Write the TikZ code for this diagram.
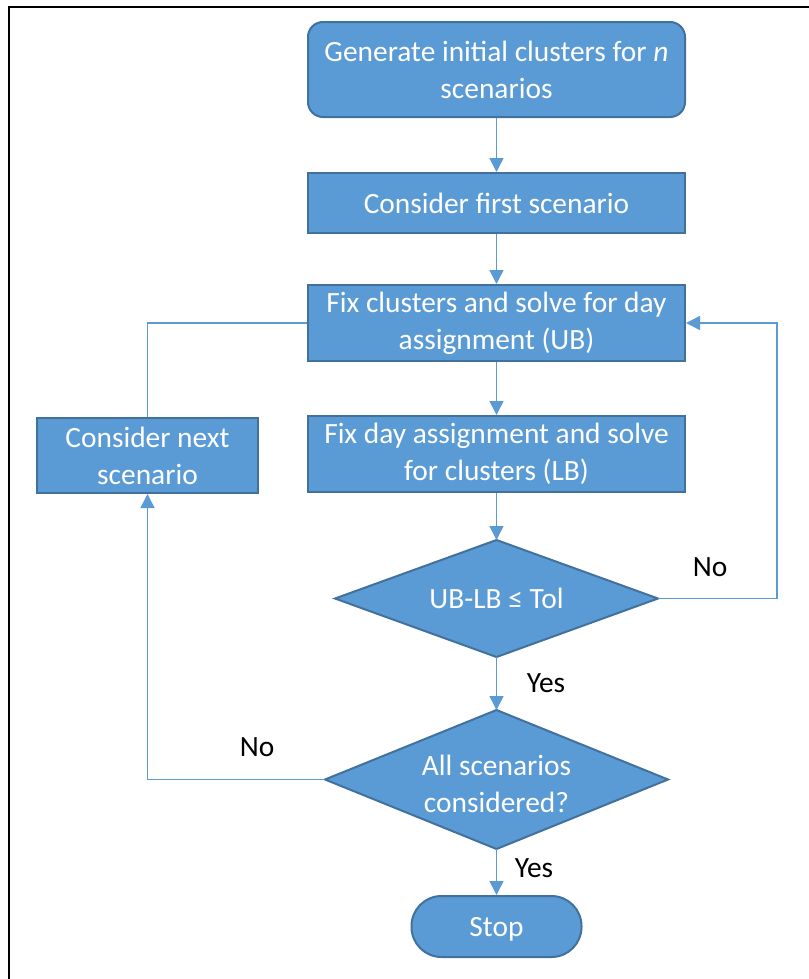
\documentclass[tikz,border=0pt]{standalone}
\usepackage{fontspec}
\setmainfont{Carlito}
\usetikzlibrary{shapes.geometric,arrows.meta}
\definecolor{boxfill}{HTML}{5B9BD5}
\definecolor{boxedge}{HTML}{41719C}
\definecolor{linec}{HTML}{5B9BD5}
\tikzset{
  every node/.style={font=\fontsize{29.4bp}{37bp}\selectfont},
  procbox/.style={draw=boxedge, line width=2bp, fill=boxfill, text=white, align=center, inner sep=0pt, minimum width=377bp},
  decbox/.style={draw=boxedge, line width=2bp, fill=boxfill, text=white, align=center, diamond, inner sep=0pt, outer sep=0pt},
  conn/.style={draw=linec, line width=1.5bp},
  arr/.style={conn, -{Triangle[length=14bp,width=14bp]}},
  lbl/.style={text=black}
}
\begin{document}
\begin{tikzpicture}[x=1bp, y=-1bp]
\useasboundingbox (0,0) rectangle (809,979);
\fill[white] (0,0) rectangle (809,979);
\draw[black, line width=2.5bp] (9,979) -- (9,7) -- (809,7);

\node[procbox, rounded corners=15bp, minimum height=95bp] (b1) at (496.5,69.5) {Generate initial clusters for \textit{n}\\scenarios};
\node[procbox, minimum height=60bp] (b2) at (496.5,203) {Consider first scenario};
\node[procbox, minimum height=76bp] (b3) at (496.5,323) {Fix clusters and solve for day\\assignment (UB)};
\node[procbox, minimum height=76bp] (b4) at (496.5,454) {Fix day assignment and solve\\for clusters (LB)};
\node[procbox, minimum width=221bp, minimum height=75bp] (b5) at (147.5,455.5) {Consider next\\scenario};
\node[decbox, aspect=2.76, minimum width=323bp, minimum height=117bp] (d1) at (496.5,598.5) {UB-LB ≤ Tol};
\node[decbox, aspect=2.47, minimum width=343bp, minimum height=139bp] (d2) at (496.5,779.5) {\raisebox{-7bp}[\height][\depth]{\begin{tabular}{@{}c@{}}All scenarios\\considered?\end{tabular}}};
\node[procbox, minimum width=170bp, minimum height=61bp, rounded corners=30bp] (st) at (496.5,926.5) {\raisebox{-3bp}[\height][\depth]{Stop}};

\draw[arr] (b1.south) -- (b2.north);
\draw[arr] (b2.south) -- (b3.north);
\draw[arr] (b3.south) -- (b4.north);
\draw[arr] (b4.south) -- (d1.north);
\draw[arr] (d1.south) -- (d2.north);
\draw[arr] (d2.south) -- (st.north);

\coordinate (r1) at (777,598.5);
\draw[arr] (d1.east) -- (r1) |- (b3.east);
\draw[arr] (d2.west) -| (b5.south);
\draw[conn] (b3.west) -| (b5.north);

\node[lbl] (no1) at (710,567) {No};
\node[lbl] (yes1) at (546,683) {Yes};
\node[lbl] (no2) at (257,747) {No};
\node[lbl] (yes2) at (534,868) {Yes};
\end{tikzpicture}
\end{document}
